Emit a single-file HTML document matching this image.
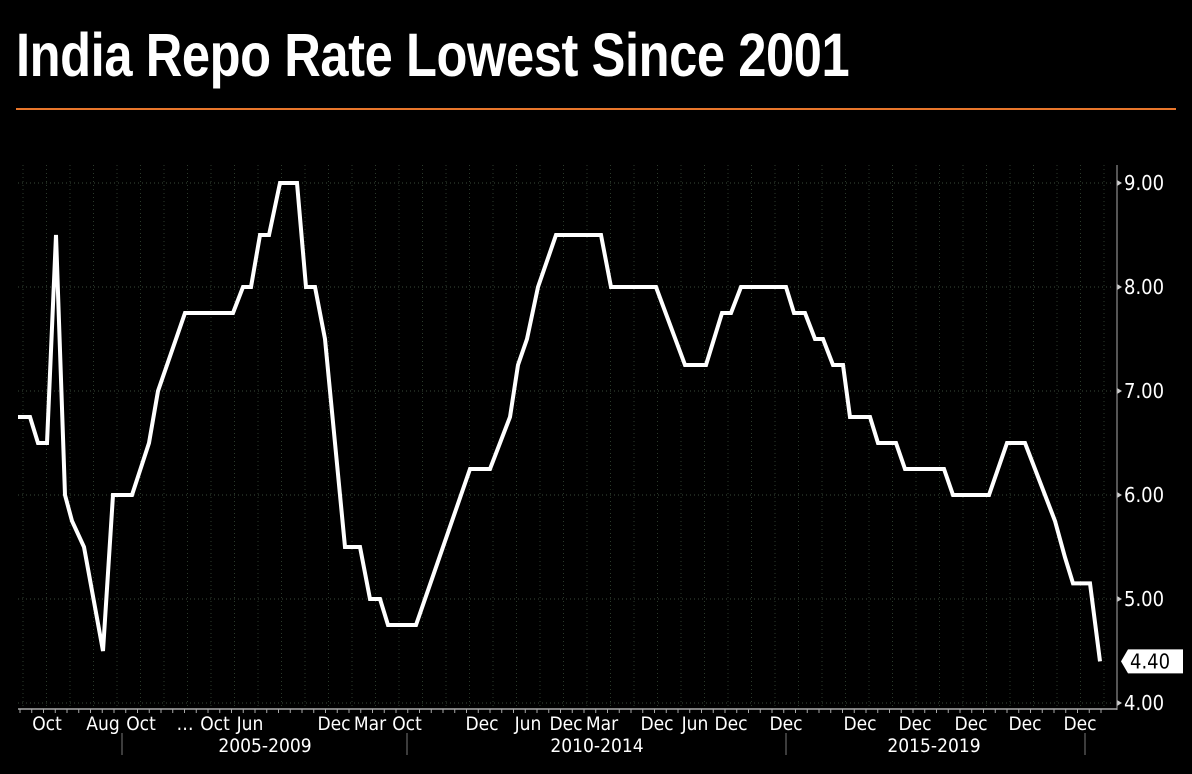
<!DOCTYPE html>
<html><head><meta charset="utf-8"><style>
body{margin:0;background:#000;width:1192px;height:774px;overflow:hidden;font-family:"Liberation Sans",sans-serif}
#title{position:absolute;left:16px;top:20px;color:#fff;font:bold 61px "Liberation Sans",sans-serif;letter-spacing:-0.5px;white-space:nowrap;transform:scaleX(0.83);transform-origin:0 0}
#rule{position:absolute;left:16px;top:108px;width:1160px;height:2px;background:#e8762b}
svg{position:absolute;left:0;top:0}
</style></head><body>
<div id="title">India Repo Rate Lowest Since 2001</div>
<div id="rule"></div>
<svg id="chart" width="1192" height="774"></svg>
<script>
// observation positions (axis units) and repo rate values
const obs = [0,12,20,29,38,47,54,66,85,95,114,131,140,167,215,225,233,242,251,262,279,288,297,307,327,342,352,362,370,398,452,472,492,500,509,520,538,583,593,638,667,688,704,713,723,768,776,787,797,805,815,825,832,852,860,878,887,926,935,971,989,1007,1027,1037,1047,1055,1072,1082];
const rates = [6.75,6.75,6.5,6.5,8.5,6.0,5.75,5.5,4.5,6.0,6.0,6.5,7.0,7.75,7.75,8.0,8.0,8.5,8.5,9.0,9.0,8.0,8.0,7.5,5.5,5.5,5.0,5.0,4.75,4.75,6.25,6.25,6.75,7.25,7.5,8.0,8.5,8.5,8.0,8.0,7.25,7.25,7.75,7.75,8.0,8.0,7.75,7.75,7.5,7.5,7.25,7.25,6.75,6.75,6.5,6.5,6.25,6.25,6.0,6.0,6.5,6.5,6.0,5.75,5.4,5.15,5.15,4.4];
const yTicks = [4,5,6,7,8,9];
const xTickLabels = ["Oct","Aug","Oct","…","Oct","Jun","Dec","Mar","Oct","Dec","Jun","Dec","Mar","Dec","Jun","Dec","Dec","Dec","Dec","Dec","Dec","Dec"];
const xTickObs = [29,85,123,167,197,232,316,352,389,464,510,548,584,639,677,713,768,842,897,953,1007,1062];
const groupLabels = ["2005-2009","2010-2014","2015-2019"];
const groupObs = [247,579,916];
const groupSepObs = [104,389,768,1067];
const lastValue = 4.40;

const X0=18, Y0=703, PY=104;
const xs = o => X0 + o;
const ys = v => Y0 - (v-4)*PY;
const svg = document.getElementById('chart');
const NS='http://www.w3.org/2000/svg';
function mk(tag, attrs, parent){const e=document.createElementNS(NS,tag);for(const k in attrs)e.setAttribute(k,attrs[k]);(parent||svg).appendChild(e);return e;}
const FONT='"DejaVu Sans Condensed","DejaVu Sans",sans-serif';

for(let o=5;o<1094;o+=23.5){
  const l=mk('line',{x1:xs(o),x2:xs(o),y1:165,y2:706,stroke:'#2b3a2b','stroke-width':1,'stroke-dasharray':'1,3'});
  
  
}
yTicks.forEach(v=>{
  const l=mk('line',{x1:18,x2:1112,y1:ys(v),y2:ys(v),stroke:'#3a4a3a','stroke-width':1,'stroke-dasharray':'1,3'});
  
  
  const t=mk('polygon',{points:`1117,${ys(v)-3} 1122,${ys(v)} 1117,${ys(v)+3}`,fill:'#ccc'});
  
  
  const tx=mk('text',{x:1124,y:ys(v)+7,fill:'#fff','font-size':20,'font-family':FONT});
  tx.textContent=v.toFixed(2);
  
  
});
let a=mk('line',{x1:1117,x2:1117,y1:165,y2:710,stroke:'#aaa','stroke-width':1});


a=mk('line',{x1:18,x2:1117,y1:709,y2:709,stroke:'#aaa','stroke-width':1.5});


for(let o=2;o<1094;o+=11.75){
  const t=mk('line',{x1:xs(o),x2:xs(o),y1:709,y2:713,stroke:'#aaa'});
  
  
}
xTickLabels.forEach((s,i)=>{
  const t=mk('text',{x:xs(xTickObs[i]),y:730,fill:'#fff','font-size':19,'text-anchor':'middle','font-family':FONT});
  t.textContent=s;
  
  
});
groupLabels.forEach((s,i)=>{
  const t=mk('text',{x:xs(groupObs[i]),y:752,fill:'#fff','font-size':19,'text-anchor':'middle','font-family':FONT});
  t.textContent=s;
  
  
});
groupSepObs.forEach(o=>{
  const l=mk('line',{x1:xs(o),x2:xs(o),y1:733,y2:755,stroke:'#777'});
  
  
});
const p=mk('polyline',{points:obs.map((o,i)=>xs(o)+','+ys(rates[i])).join(' '),fill:'none',stroke:'#fff','stroke-width':4,'stroke-linejoin':'miter'});


const ly=ys(lastValue);
const tag=mk('polygon',{points:`1121,${ly} 1128,${ly-12} 1183,${ly-12} 1183,${ly+12} 1128,${ly+12}`,fill:'#fff'});


const tt=mk('text',{x:1130,y:ly+7,fill:'#000','font-size':20,'font-family':FONT});
tt.textContent=lastValue.toFixed(2);


</script>
</body></html>
